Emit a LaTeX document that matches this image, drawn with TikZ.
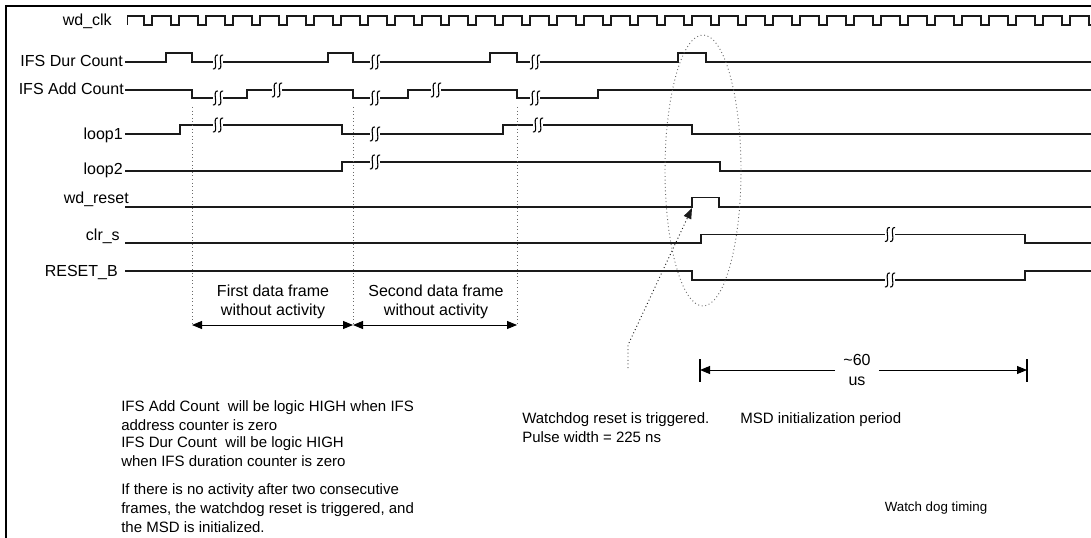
\documentclass[tikz,border=0pt]{standalone}
\usepackage{fontspec}
\setmainfont{Liberation Sans}
\usetikzlibrary{arrows.meta}
\definecolor{ink}{HTML}{1A1A1A}
\definecolor{dotgray}{HTML}{6A6A6A}
\tikzset{
  wave/.style={draw=ink,line width=1pt},
  siglabel/.style={anchor=base east,inner sep=0pt,font=\fontsize{12}{14.25}\selectfont},
  note/.style={anchor=north west,inner sep=0pt,align=left,font=\fontsize{11.25}{14.5}\selectfont},
  frametxt/.style={align=center,inner sep=0pt,font=\fontsize{12}{14.25}\selectfont},
  guide/.style={draw=dotgray,dotted,line width=0.7pt},
  spanarr/.style={{Triangle[length=7.5pt,width=6pt]}-{Triangle[length=7.5pt,width=6pt]},line width=0.7pt},
  tiparr/.style={-{Triangle[length=7.5pt,width=6pt]},line width=0.7pt},
  pointer/.style={dotted,draw=ink,line width=0.7pt,-{Triangle[length=8pt,width=6pt]}},
  brk/.pic={
    \fill[white] (-5,-3) rectangle (5,3);
    \foreach \s in {-2.6,2.6}{
      \draw[line width=0.8pt] (\s+2.5,-7) .. controls (\s-4,-8) and (\s+4,8) .. (\s-2.5,7);
    }
  }
}
\begin{document}
\begin{tikzpicture}[x=0.75pt,y=-0.75pt]
  \path[use as bounding box] (0,0) rectangle (1091,538);
  \draw[line width=2.2pt] (6,538) -- (6,6) -- (1091,6);

  \node[siglabel] (lclk) at (112,26) {wd\_clk};
  \node[siglabel] (ldur) at (123,66.5) {IFS Dur Count};
  \node[siglabel] (ladd) at (124,95) {IFS Add Count};
  \node[siglabel] (lloopa) at (123,140) {loop1};
  \node[siglabel] (lloopb) at (123,175) {loop2};
  \node[siglabel] (lwdr) at (129,204) {wd\_reset};
  \node[siglabel] (lclr) at (120,240) {clr\_s};
  \node[siglabel] (lrst) at (118,276) {RESET\_B};

  \draw[wave] (127.5,25) -- (127.5,16)
    \foreach \k in {0,...,34}{ -- ({144+27*\k},16) -- ({144+27*\k},25) -- ({152+27*\k},25) -- ({152+27*\k},16)}
    -- (1089,16) -- (1089,25) -- (1091,25);

  \draw[wave] (125,62) -- (166,62) -- (166,53) -- (192,53) -- (192,62) -- (328,62) -- (328,53) -- (353,53)
    -- (353,62) -- (490,62) -- (490,53) -- (517,53) -- (517,62) -- (678,62) -- (678,53) -- (706,53)
    -- (706,62) -- (1091,62);
  \draw[wave] (125,90) -- (192,90) -- (192,98) -- (247,98) -- (247,90) -- (353,90) -- (353,98) -- (408,98)
    -- (408,90) -- (517,90) -- (517,98) -- (598,98) -- (598,90) -- (1091,90);
  \draw[wave] (125,134) -- (180,134) -- (180,125) -- (342,125) -- (342,134) -- (503,134) -- (503,125)
    -- (692,125) -- (692,134) -- (1091,134);
  \draw[wave] (125,171) -- (342,171) -- (342,162) -- (720,162) -- (720,171) -- (1091,171);
  \draw[wave] (125,207) -- (692,207) -- (692,197.5) -- (719,197.5) -- (719,207) -- (1091,207);
  \draw[wave] (125,243) -- (701,243) -- (701,234.5) -- (1025,234.5) -- (1025,243) -- (1091,243);
  \draw[wave] (125,271) -- (692,271) -- (692,280) -- (1025,280) -- (1025,271) -- (1091,271);

  \foreach \bx/\by in {218/62,375/62,535/62,218/98,277/90,375/98,436/90,535/98,218/125,375/134,538/125,375/162,890/234.5,890/280}
    \pic at (\bx,\by) {brk};

  \coordinate (ga) at (192,325);
  \coordinate (gb) at (353,325);
  \coordinate (gc) at (517,325);
  \draw[guide] (192,107) -- (ga);
  \draw[guide] (353,107) -- (gb);
  \draw[guide] (517,107) -- (gc);
  \draw[spanarr] (ga) -- (gb);
  \draw[spanarr] (gb) -- (gc);
  \node[frametxt] (fra) at (273,302) {First data frame\\without activity};
  \node[frametxt] (frb) at (436,302) {Second data frame\\without activity};

  \draw[guide] (703,170.5) ellipse [x radius=38, y radius=135.5];

  \coordinate (ptail) at (628,368);
  \coordinate (pbend) at (628,345);
  \coordinate (ptip) at (692,208);
  \draw[pointer] (ptail) -- (pbend) -- (ptip);

  \node[align=center,inner sep=0pt,inner xsep=6pt,font=\fontsize{12}{15.5}\selectfont] (msd) at (857,370) {\textasciitilde 60\\us};
  \coordinate (msda) at (700,370);
  \coordinate (msdb) at (1027,370);
  \draw[line width=0.8pt] (700,359) -- (700,382);
  \draw[line width=0.8pt] (1027,359) -- (1027,382);
  \draw[tiparr] (msd) -- (msda);
  \draw[tiparr] (msd) -- (msdb);

  \node[note] (nadd) at (121,400) {IFS Add Count\ \ will be logic HIGH when IFS\\address counter is zero};
  \node[note] (ndur) at (121,436) {IFS Dur Count\ \ will be logic HIGH\\when IFS duration counter is zero};
  \node[note] (nact) at (121,483) {If there is no activity after two consecutive\\frames, the watchdog reset is triggered, and\\the MSD is initialized.};
  \node[note] (nwd) at (522,412) {Watchdog reset is triggered.\\Pulse width = 225 ns};
  \node[note] (nmsd) at (740,412) {MSD initialization period};
  \node[anchor=center,inner sep=0pt,font=\fontsize{10}{12}\selectfont] (ttl) at (936,508) {Watch dog timing};
\end{tikzpicture}
\end{document}
